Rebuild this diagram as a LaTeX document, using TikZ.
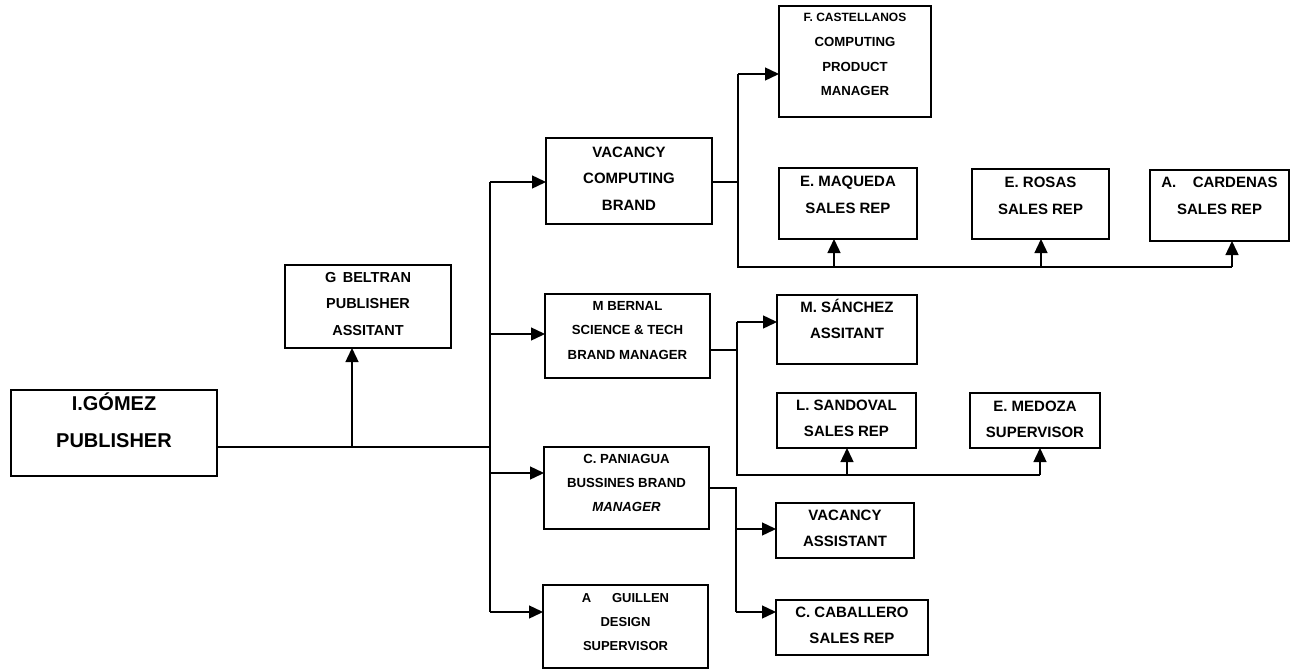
\documentclass[tikz,border=0pt]{standalone}
\usepackage{fontspec}
\setmainfont{Liberation Sans}
\usetikzlibrary{arrows.meta}

\tikzset{
  frame/.style={draw, line width=1.4pt, inner sep=0pt, outer sep=0pt},
  words/.style={inner sep=0pt},
  link/.style={line width=1.4pt},
  arr/.style={link, -{Triangle[length=14pt,width=13pt]}},
}

% #1 name, #2 x1, #3 y1, #4 x2, #5 y2, #6 font size, #7 line gap, #8 first baseline, #9 text
\newcommand\orgbox[9]{%
  \node[frame, minimum width={(#4-#2)*1pt}, minimum height={(#5-#3)*1pt}]
    (#1) at ({(#2+#4)/2},{(#3+#5)/2}) {};
  \node[words, anchor=base, font=\fontsize{#6}{#7}\selectfont\bfseries]
    (#1-t) at ({(#2+#4)/2},#8) {\begin{tabular}[t]{@{}c@{}}#9\end{tabular}};
}

\begin{document}
\begin{tikzpicture}[x=1pt, y=-1pt]
\useasboundingbox (0,0) rectangle (1291,669);

% boxes
\orgbox{gomez}{11}{390}{217}{476}{20}{37}{410}{I.GÓMEZ\\PUBLISHER}
\orgbox{beltran}{285}{265}{451}{348}{14.5}{26.7}{282}{G\hspace{0.45em}BELTRAN\\PUBLISHER\\ASSITANT}
\orgbox{vcb}{546}{138}{712}{224}{15}{26.7}{157}{VACANCY\\COMPUTING\\BRAND}
\orgbox{cast}{779}{6}{931}{117}{13.2}{24.6}{22}{{\fontsize{12}{24.6}\selectfont F. CASTELLANOS}\\COMPUTING\\PRODUCT\\MANAGER}
\orgbox{maq}{779}{168}{917}{239}{15}{27.6}{186}{E. MAQUEDA\\SALES REP}
\orgbox{rosas}{972}{169}{1109}{239}{15}{27.6}{187}{E. ROSAS\\SALES REP}
\orgbox{card}{1150}{170}{1289}{241}{15}{27.6}{187}{A.\hspace{1.1em}CARDENAS\\SALES REP}
\orgbox{bernal}{545}{294}{710}{378}{13.2}{24.6}{310}{M BERNAL\\SCIENCE \& TECH\\BRAND MANAGER}
\orgbox{sanchez}{777}{295}{917}{364}{15}{26.7}{312}{M. SÁNCHEZ\\ASSITANT}
\orgbox{sandoval}{777}{393}{916}{448}{15}{26}{410}{L. SANDOVAL\\SALES REP}
\orgbox{medoza}{970}{393}{1100}{448}{15}{26}{411}{E. MEDOZA\\SUPERVISOR}
\orgbox{paniagua}{544}{447}{709}{529}{13.2}{24.2}{463}{C. PANIAGUA\\BUSSINES BRAND\\\textit{MANAGER}}
\orgbox{vacasst}{776}{503}{914}{558}{15}{26.7}{520}{VACANCY\\ASSISTANT}
\orgbox{caballero}{776}{600}{928}{655}{15}{26.7}{617}{C. CABALLERO\\SALES REP}
\orgbox{guillen}{543}{585}{708}{668}{13}{24.2}{602}{A\hspace{1.6em}GUILLEN\\DESIGN\\SUPERVISOR}

% publisher to the trunk, and the assistant above
\coordinate (j0) at (490,447);
\coordinate (b0) at (352,447);
\draw[link] (gomez.east |- j0) -- (j0);
\draw[arr] (b0) -- (b0 |- beltran.south);

% main trunk to the four brand boxes
\coordinate (t1) at (490,182);
\coordinate (t2) at (490,334);
\coordinate (t3) at (490,473);
\coordinate (t4) at (490,612);
\draw[link] (t1) -- (t4);
\draw[arr] (t1) -- (t1 -| vcb.west);
\draw[arr] (t2) -- (t2 -| bernal.west);
\draw[arr] (t3) -- (t3 -| paniagua.west);
\draw[arr] (t4) -- (t4 -| guillen.west);

% computing brand branch
\coordinate (v0) at (738,182);
\coordinate (v1) at (738,74);
\coordinate (v2) at (738,267);
\coordinate (m0) at (834,267);
\coordinate (r0) at (1041,267);
\coordinate (c0) at (1232,267);
\draw[link] (vcb.east |- v0) -- (v0);
\draw[link] (v1) -- (v2) -- (c0);
\draw[arr] (v1) -- (v1 -| cast.west);
\draw[arr] (m0) -- (m0 |- maq.south);
\draw[arr] (r0) -- (r0 |- rosas.south);
\draw[arr] (c0) -- (c0 |- card.south);

% science & tech branch
\coordinate (s0) at (737,350);
\coordinate (s1) at (737,322);
\coordinate (s2) at (737,475);
\coordinate (d0) at (847,475);
\coordinate (e0) at (1040,475);
\draw[link] (bernal.east |- s0) -- (s0);
\draw[link] (s1) -- (s2) -- (e0);
\draw[arr] (s1) -- (s1 -| sanchez.west);
\draw[arr] (d0) -- (d0 |- sandoval.south);
\draw[arr] (e0) -- (e0 |- medoza.south);

% business brand branch
\coordinate (p0) at (736,488);
\coordinate (p1) at (736,529);
\coordinate (p2) at (736,612);
\draw[link] (paniagua.east |- p0) -- (p0) -- (p2);
\draw[arr] (p1) -- (p1 -| vacasst.west);
\draw[arr] (p2) -- (p2 -| caballero.west);
\end{tikzpicture}
\end{document}
